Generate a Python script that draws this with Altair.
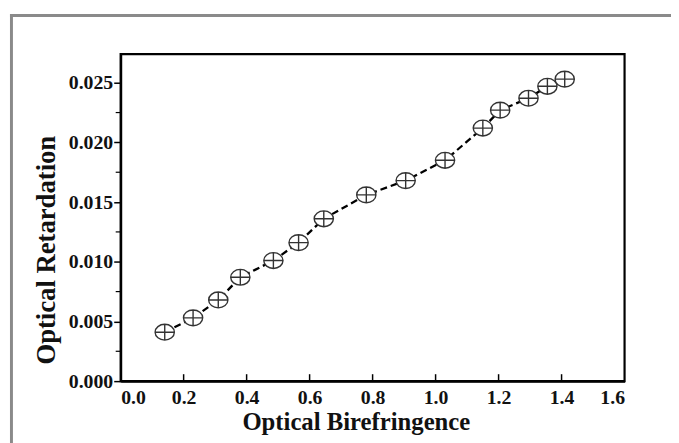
import altair as alt
import pandas as pd

# Data
birefringence = [0.14, 0.23, 0.31, 0.38, 0.485, 0.565, 0.645, 0.78, 0.905, 1.03, 1.15, 1.205, 1.295, 1.355, 1.41]
retardation = [0.0041, 0.0053, 0.0068, 0.0087, 0.0101, 0.0116, 0.0136, 0.0156, 0.0168, 0.0185, 0.0212, 0.0227, 0.0237, 0.0247, 0.0253]
x_ticks = [0.0, 0.2, 0.4, 0.6, 0.8, 1.0, 1.2, 1.4, 1.6]
y_ticks = [0.000, 0.005, 0.010, 0.015, 0.020, 0.025]
y_minor = [0.0025, 0.0075, 0.0125, 0.0175, 0.0225]

df = pd.DataFrame({"x": birefringence, "y": retardation})
xt = pd.DataFrame({"x": x_ticks[1:-1]})
ym = pd.DataFrame({"y": y_minor})

W, H = 510, 331
FONT = "Liberation Serif"

xscale = alt.Scale(domain=[0, 1.6], nice=False, zero=False)
yscale = alt.Scale(domain=[0, 0.0274], nice=False, zero=False)

xaxis = alt.Axis(values=x_ticks, format=".1f", title="Optical Birefringence",
                 ticks=False, labelPadding=7, grid=False, labelFontSize=20,
                 titleFontSize=25, titleX=238, titleAlign="center", titlePadding=2)
yaxis = alt.Axis(values=y_ticks, format=".3f", title="Optical Retardation",
                 tickSize=7, tickWidth=1.5, tickColor="black", labelPadding=1, grid=False,
                 labelFontSize=20, titleFontSize=27, titleY=198, titlePadding=8)

line = alt.Chart(df).mark_line(color="black", strokeWidth=2.3, strokeDash=[7, 4]).encode(
    x=alt.X("x:Q", scale=xscale, axis=xaxis),
    y=alt.Y("y:Q", scale=yscale, axis=yaxis),
)

marker_path = "M-1,0A1,0.82 0 1,0 1,0A1,0.82 0 1,0 -1,0Z M-1,0L1,0 M0,-0.82L0,0.82"
points = alt.Chart(df).mark_point(
    shape=marker_path, size=380, filled=False, fill="white", fillOpacity=1,
    stroke="#333333", strokeWidth=1.4, opacity=1
).encode(
    x=alt.X("x:Q", scale=xscale),
    y=alt.Y("y:Q", scale=yscale),
)

xticks_in = alt.Chart(xt).mark_rule(color="black", strokeWidth=1.5).encode(
    x=alt.X("x:Q", scale=xscale),
    y=alt.value(H),
    y2=alt.value(H - 7),
)

yminor = alt.Chart(ym).mark_rule(color="black", strokeWidth=1.2).encode(
    y=alt.Y("y:Q", scale=yscale),
    x=alt.value(-5),
    x2=alt.value(0),
)

one = alt.Data(values=[{"a": 1}])
frame_left = alt.Chart(one).mark_rule(color="#8a8a8a", strokeWidth=3).encode(
    x=alt.value(-110.5), y=alt.value(-40.5), y2=alt.value(400)
)
frame_top = alt.Chart(one).mark_rule(color="#8a8a8a", strokeWidth=3).encode(
    x=alt.value(-112), x2=alt.value(570), y=alt.value(-39)
)

chart = alt.layer(frame_left, frame_top, line, points, xticks_in, yminor).properties(
    width=W, height=H,
    autosize=alt.AutoSizeParams(type="none"),
    padding={"left": 114, "top": 44, "right": 47, "bottom": 60},
).configure_view(
    stroke="black", strokeWidth=2.2
).configure_axis(
    domainColor="black", domainWidth=2.2,
    labelFont=FONT, labelFontWeight="bold", labelColor="#111",
    titleFont=FONT, titleFontWeight="bold", titleColor="#111",
)

chart.save("out.html", embed_options={"renderer": "svg", "actions": False})
